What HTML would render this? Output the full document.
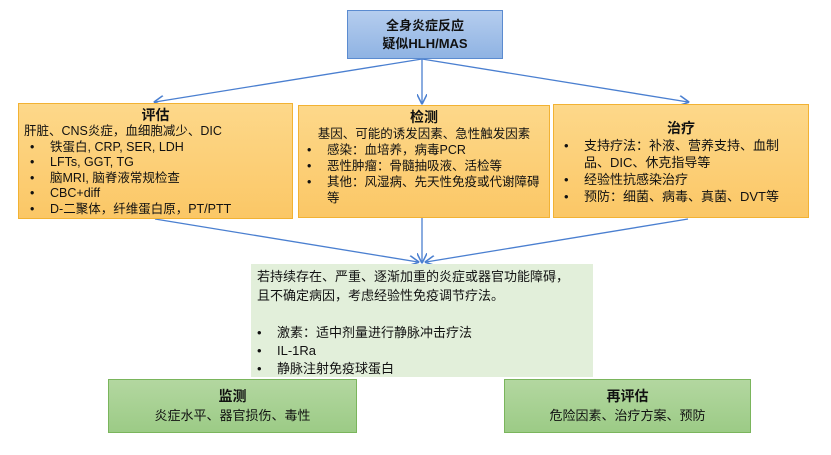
<!DOCTYPE html>
<html><head><meta charset="utf-8"><style>
body{margin:0;width:831px;height:455px;background:#fff;font-family:"Liberation Sans","Noto Sans CJK SC",sans-serif;position:relative;overflow:hidden;color:#111}
.b{position:absolute;box-sizing:border-box}
.o{background:linear-gradient(#fdd88a,#fbc766);border:1.5px solid #f2b233;font-size:12.5px;line-height:16px}
.t{font-weight:bold;font-size:14px;text-align:center;line-height:18px}
ul{margin:0;padding:0 0 0 8px;list-style:none}
li{position:relative;padding-left:20px}
li:before{content:"•";position:absolute;left:0}
.g{background:linear-gradient(#b3d7a0,#9ccb86);border:1.5px solid #7ab55c;text-align:center;font-size:13px}
</style></head><body>
<svg width="831" height="455" style="position:absolute;left:0;top:0">
<defs><marker id="a" markerWidth="8" markerHeight="8" refX="7" refY="4" orient="auto"><path d="M0,0 L8,4 L0,8" fill="none" stroke="#4a7fd0" stroke-width="1.2"/></marker></defs>
<g stroke="#4a7fd0" stroke-width="1.3" fill="none" marker-end="url(#a)">
<line x1="422" y1="59" x2="155" y2="102"/>
<line x1="422" y1="59" x2="422" y2="103"/>
<line x1="422" y1="59" x2="688" y2="102"/>
<line x1="155" y1="219" x2="418" y2="262"/>
<line x1="422" y1="218" x2="422" y2="262"/>
<line x1="688" y1="219" x2="426" y2="262"/>
</g></svg>
<div class="b" style="left:347px;top:10px;width:156px;height:49px;background:linear-gradient(#b5cdee,#8fb3e3);border:1.5px solid #5b8bd0;text-align:center;font-size:13px;font-weight:bold;line-height:18px;padding-top:6px">全身炎症反应<br>疑似HLH/MAS</div>
<div class="b o" style="left:18px;top:103px;width:275px;height:116px;padding:2px 5px;line-height:15.5px">
<div class="t">评估</div>
<div>肝脏、CNS炎症，血细胞减少、DIC</div>
<ul style="padding-left:6px"><li>铁蛋白, CRP, SER, LDH</li><li>LFTs, GGT, TG</li><li>脑MRI, 脑脊液常规检查</li><li>CBC+diff</li><li>D-二聚体，纤维蛋白原，PT/PTT</li></ul></div>
<div class="b o" style="left:298px;top:105px;width:252px;height:113px;padding:2px 5px">
<div class="t">检测</div>
<div style="text-align:center">基因、可能的诱发因素、急性触发因素</div>
<ul style="padding-left:3px"><li>感染：血培养，病毒PCR</li><li>恶性肿瘤：骨髓抽吸液、活检等</li><li>其他：风湿病、先天性免疫或代谢障碍等</li></ul></div>
<div class="b o" style="left:553px;top:104px;width:256px;height:114px;padding:14px 8px;font-size:13px;line-height:17px">
<div class="t">治疗</div>
<ul style="padding-left:2px;padding-right:8px"><li>支持疗法：补液、营养支持、血制品、DIC、休克指导等</li><li>经验性抗感染治疗</li><li>预防：细菌、病毒、真菌、DVT等</li></ul></div>
<div class="b" style="left:251px;top:264px;width:342px;height:113px;background:#e2efda;font-size:13px;line-height:19px;padding:3px 12px 0 6px">若持续存在、严重、逐渐加重的炎症或器官功能障碍，且不确定病因，考虑经验性免疫调节疗法。<br><br>
<ul style="padding-left:0;line-height:18px"><li style="padding-left:20px">激素：适中剂量进行静脉冲击疗法</li><li style="padding-left:20px">IL-1Ra</li><li style="padding-left:20px">静脉注射免疫球蛋白</li></ul></div>
<div class="b g" style="left:108px;top:379px;width:249px;height:54px;padding-top:7px"><div class="t" style="font-size:14px">监测</div>炎症水平、器官损伤、毒性</div>
<div class="b g" style="left:504px;top:379px;width:247px;height:54px;padding-top:7px"><div class="t" style="font-size:14px">再评估</div>危险因素、治疗方案、预防</div>
</body></html>
